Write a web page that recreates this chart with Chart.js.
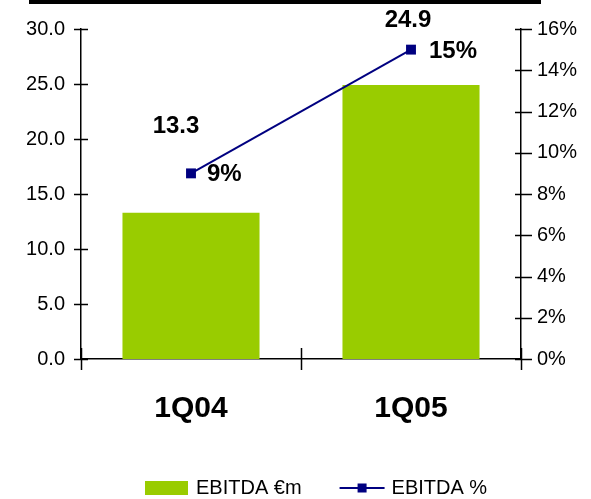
<!DOCTYPE html>
<html>
<head>
<meta charset="utf-8">
<script src="https://cdn.jsdelivr.net/npm/chart.js@4.4.1/dist/chart.umd.min.js"></script>
<style>
  body { margin: 0; background: #fff; }
  #wrap { position: relative; width: 591px; height: 499px; }
  #topRule { position: absolute; left: 29px; top: 0; width: 512px; height: 4px; background: #000; }
</style>
</head>
<body>
<div id="wrap">
  <canvas id="chart" width="591" height="499"></canvas>
  <div id="topRule"></div>
</div>
<script>
const quarters = ['1Q04', '1Q05'];
const ebitdaEur = [13.3, 24.9];
const ebitdaPct = [9, 15];
const eurTicks = [0, 5, 10, 15, 20, 25, 30];
const pctTicks = [0, 2, 4, 6, 8, 10, 12, 14, 16];

const FONT = '"Liberation Sans", Arial, sans-serif';
const GREEN = '#99cc00';
const NAVY = '#000080';

// value labels: offsets relative to the bar top / the line point
const barLabelOffset = [[-15, -86], [-3, -65]];
const pctLabelOffset = [[16, 1], [18, 2]];

const valueLabels = {
    id: 'valueLabels',
    afterDatasetsDraw(chart) {
        const ctx = chart.ctx;
        ctx.save();
        ctx.fillStyle = '#000';
        ctx.font = 'bold 24px ' + FONT;
        ctx.textBaseline = 'middle';
        const bars = chart.getDatasetMeta(0).data;
        bars.forEach((el, i) => {
            ctx.textAlign = 'center';
            ctx.fillText(ebitdaEur[i].toFixed(1), el.x + barLabelOffset[i][0], el.y + barLabelOffset[i][1]);
        });
        const pts = chart.getDatasetMeta(1).data;
        pts.forEach((el, i) => {
            ctx.textAlign = 'left';
            ctx.fillText(ebitdaPct[i] + '%', el.x + pctLabelOffset[i][0], el.y + pctLabelOffset[i][1]);
        });
        ctx.restore();
    }
};

// tick marks crossing the axes, and the legend underneath
const axisMarks = {
    id: 'axisMarks',
    afterDraw(chart) {
        const ctx = chart.ctx, a = chart.chartArea;
        const x = chart.scales.x, y = chart.scales.y, y1 = chart.scales.y1;
        ctx.save();
        ctx.strokeStyle = '#000';
        ctx.lineWidth = 1.5;
        ctx.beginPath();
        y.ticks.forEach(t => {
            const py = Math.round(y.getPixelForValue(t.value)) + 0.5;
            ctx.moveTo(a.left - 7, py);
            ctx.lineTo(a.left + 7, py);
        });
        y1.ticks.forEach(t => {
            const py = Math.round(y1.getPixelForValue(t.value)) + 0.5;
            ctx.moveTo(a.right - 6, py);
            ctx.lineTo(a.right + 11, py);
        });
        for (let i = 0; i <= quarters.length; i++) {
            const px = Math.round(x.getPixelForValue(i - 0.5)) + 0.5;
            ctx.moveTo(px, a.bottom - 11);
            ctx.lineTo(px, a.bottom + 11);
        }
        ctx.stroke();

        // legend
        const ds = chart.data.datasets;
        const cy = 488;
        let lx = 145;
        ctx.font = '20px ' + FONT;
        ctx.textBaseline = 'middle';
        ctx.textAlign = 'left';
        ctx.fillStyle = ds[0].backgroundColor;
        ctx.fillRect(lx, cy - 7, 43, 14);
        lx += 51;
        ctx.fillStyle = '#000';
        ctx.fillText(ds[0].label, lx, cy);
        lx += ctx.measureText(ds[0].label).width + 38;
        ctx.strokeStyle = ds[1].borderColor;
        ctx.lineWidth = 2;
        ctx.beginPath();
        ctx.moveTo(lx, cy);
        ctx.lineTo(lx + 45, cy);
        ctx.stroke();
        ctx.fillStyle = ds[1].pointBackgroundColor;
        ctx.fillRect(lx + 18, cy - 4.5, 9, 9);
        lx += 52;
        ctx.fillStyle = '#000';
        ctx.fillText(ds[1].label, lx, cy);
        ctx.restore();
    }
};

new Chart(document.getElementById('chart'), {
    type: 'bar',
    data: {
        labels: quarters,
        datasets: [{
            type: 'bar',
            label: 'EBITDA €m',
            data: ebitdaEur,
            backgroundColor: GREEN,
            barPercentage: 0.623,
            categoryPercentage: 1,
            yAxisID: 'y',
            order: 1
        }, {
            type: 'line',
            label: 'EBITDA %',
            data: ebitdaPct,
            borderColor: NAVY,
            borderWidth: 2,
            pointStyle: 'rect',
            pointRadius: 7,
            pointBackgroundColor: NAVY,
            pointBorderWidth: 0,
            tension: 0,
            yAxisID: 'y1',
            order: 0
        }]
    },
    options: {
        responsive: false,
        animation: false,
        layout: { padding: { top: 29, left: 0, right: 0, bottom: 0 } },
        plugins: {
            legend: { display: false },
            tooltip: { enabled: false }
        },
        scales: {
            x: {
                grid: { display: false, drawTicks: false },
                border: { display: true, color: '#000', width: 1.5 },
                ticks: { color: '#000', padding: 32, font: { family: FONT, size: 30, weight: 'bold' } },
                afterFit(s) { s.height = 140; }
            },
            y: {
                position: 'left',
                min: 0,
                max: 30,
                afterBuildTicks(s) { s.ticks = eurTicks.map(v => ({ value: v })); },
                grid: { display: false, drawTicks: false },
                border: { display: true, color: '#000', width: 1.5 },
                ticks: {
                    color: '#000',
                    padding: 16,
                    font: { family: FONT, size: 20 },
                    callback: v => v.toFixed(1)
                },
                afterFit(s) { s.width = 81; }
            },
            y1: {
                position: 'right',
                min: 0,
                max: 16,
                afterBuildTicks(s) { s.ticks = pctTicks.map(v => ({ value: v })); },
                grid: { display: false, drawTicks: false },
                border: { display: true, color: '#000', width: 1.5 },
                ticks: {
                    color: '#000',
                    padding: 16,
                    font: { family: FONT, size: 20 },
                    callback: v => v + '%'
                },
                afterFit(s) { s.width = 70; }
            }
        }
    },
    plugins: [valueLabels, axisMarks]
});
</script>
</body>
</html>
